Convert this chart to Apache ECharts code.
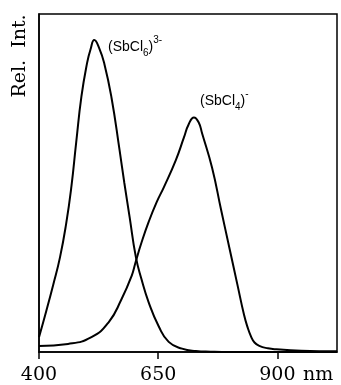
<!DOCTYPE html>
<html>
<head>
<meta charset="utf-8">
<style>
  html, body { margin: 0; padding: 0; background: #fff; }
  #chart { width: 341px; height: 385px; }
</style>
<script src="https://cdn.jsdelivr.net/npm/echarts@6/dist/echarts.min.js"></script>
</head>
<body>
<div id="chart"></div>
<script>
// (SbCl6)3- emission band
const hexaNm = [400, 415, 430, 444, 457, 468, 478, 489, 501, 508, 516, 526, 537, 552, 569, 579, 590, 603, 615, 630, 651, 672, 700, 729, 760, 800, 900, 1025]
const hexaInt = [0.044, 0.12, 0.20, 0.28, 0.38, 0.49, 0.62, 0.756, 0.856, 0.895, 0.923, 0.90, 0.853, 0.753, 0.597, 0.50, 0.40, 0.282, 0.215, 0.147, 0.076, 0.03, 0.01, 0.003, 0.001, 0, 0, 0]
// (SbCl4)- emission band
const tetraNm = [400, 461, 510, 546, 573, 594, 603, 615, 630, 647, 662, 687, 704, 714, 725, 735, 742, 763, 782, 799, 816, 830, 837, 845, 852, 862, 880, 898, 950, 1025]
const tetraInt = [0.018, 0.024, 0.044, 0.088, 0.156, 0.224, 0.268, 0.324, 0.385, 0.444, 0.488, 0.568, 0.635, 0.674, 0.694, 0.679, 0.647, 0.545, 0.42, 0.31, 0.20, 0.11, 0.075, 0.045, 0.028, 0.018, 0.011, 0.008, 0.004, 0.002]
const xTicks = [400, 650, 900]

const chart = echarts.init(document.getElementById('chart'))

// measure text to lay out sub/superscripts
const ctx = document.createElement('canvas').getContext('2d')
function textWidth (t, font) {
  ctx.font = font
  return ctx.measureText(t).width
}
function formula (x0, yMid, parts) {
  const els = []
  let x = x0
  parts.forEach((p) => {
    const font = p.size + 'px "Liberation Sans", sans-serif'
    els.push({
      type: 'text',
      x: x,
      y: yMid + p.dy,
      style: { text: p.t, font: font, fill: '#000', align: 'left', verticalAlign: 'middle' }
    })
    x += textWidth(p.t, font)
  })
  return els
}

const lbl1 = formula(108, 47, [
  { t: '(SbCl', size: 14, dy: 0 },
  { t: '6', size: 10, dy: 6 },
  { t: ')', size: 14, dy: 0 },
  { t: '3-', size: 10, dy: -7 }
])
const lbl2 = formula(200, 101, [
  { t: '(SbCl', size: 14, dy: 0 },
  { t: '4', size: 10, dy: 6 },
  { t: ')', size: 14, dy: 0 },
  { t: '-', size: 10, dy: -7 }
])

const option = {
  animation: false,
  grid: {
    left: 39,
    right: 4,
    top: 14,
    bottom: 32,
    show: true,
    borderColor: '#000',
    borderWidth: 1.5
  },
  xAxis: {
    type: 'value',
    min: 400,
    max: 1025,
    interval: 250,
    axisLine: { show: true, lineStyle: { color: '#000', width: 1.5 } },
    axisTick: {
      show: true,
      length: 7,
      lineStyle: { color: '#000', width: 1.5 },
      customValues: xTicks
    },
    axisLabel: {
      margin: 14,
      color: '#000',
      fontFamily: 'DejaVu Serif',
      fontSize: 19,
      customValues: xTicks
    },
    splitLine: { show: false }
  },
  yAxis: {
    type: 'value',
    min: 0,
    max: 1,
    axisLine: { show: true, lineStyle: { color: '#000', width: 1.5 } },
    axisTick: { show: false },
    axisLabel: { show: false },
    splitLine: { show: false }
  },
  series: [
    {
      type: 'line',
      data: hexaNm.map((v, i) => [v, hexaInt[i]]),
      smooth: 0.5,
      showSymbol: false,
      lineStyle: { color: '#000', width: 2 }
    },
    {
      type: 'line',
      data: tetraNm.map((v, i) => [v, tetraInt[i]]),
      smooth: 0.5,
      showSymbol: false,
      lineStyle: { color: '#000', width: 2 }
    }
  ],
  graphic: [
    {
      type: 'text',
      x: 20,
      y: 56,
      rotation: Math.PI / 2,
      style: { text: 'Rel.  Int.', font: '19px "DejaVu Serif", serif', fill: '#000', align: 'center', verticalAlign: 'middle' }
    },
    {
      type: 'text',
      x: 303,
      y: 375,
      style: { text: 'nm', font: '19px "DejaVu Serif", serif', fill: '#000', align: 'left', verticalAlign: 'middle' }
    }
  ].concat(lbl1, lbl2)
}
chart.setOption(option)
</script>
</body>
</html>
